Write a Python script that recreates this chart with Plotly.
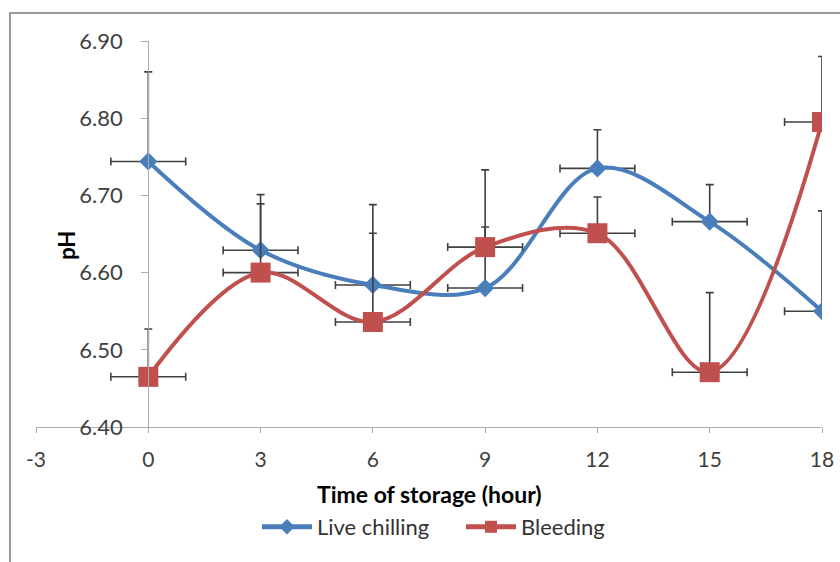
import plotly.graph_objects as go

hours = [0, 3, 6, 9, 12, 15, 18]
live_chilling = [6.744, 6.629, 6.584, 6.580, 6.735, 6.666, 6.550]
live_err = [0.116, 0.072, 0.067, 0.079, 0.050, 0.048, 0.130]
bleeding = [6.465, 6.600, 6.536, 6.633, 6.651, 6.471, 6.795]
bleed_err = [0.062, 0.089, 0.152, 0.100, 0.047, 0.103, 0.085]
x_err = 1
x_ticks = [-3, 0, 3, 6, 9, 12, 15, 18]
x_tick_text = ["-3", "0", "3", "6", "9", "12", "15", "18"]
y_ticks = [6.40, 6.50, 6.60, 6.70, 6.80, 6.90]

BLUE = "#4A7EBB"
RED = "#C0504D"
ERR = "#404040"
AXIS = "#ABABAB"
FONT = "Lato"

def err_y(vals):
    return dict(type="data", symmetric=False, array=vals, arrayminus=[0] * len(vals),
                color=ERR, thickness=1.6, width=4)

def err_x():
    return dict(type="constant", value=x_err, color=ERR, thickness=1.6, width=4)

fig = go.Figure()
fig.add_trace(go.Scatter(
    x=hours, y=live_chilling, name="Live chilling", mode="lines+markers",
    line=dict(color=BLUE, width=4, shape="spline", smoothing=1),
    marker=dict(symbol="diamond", size=14, color=BLUE),
    error_y=err_y(live_err), error_x=err_x(),
))
fig.add_trace(go.Scatter(
    x=hours, y=bleeding, name="Bleeding", mode="lines+markers",
    line=dict(color=RED, width=4, shape="spline", smoothing=1),
    marker=dict(symbol="square", size=20, color=RED),
    error_y=err_y(bleed_err), error_x=err_x(),
))

fig.update_layout(
    width=840, height=562,
    margin=dict(l=36, r=18, t=41, b=135, autoexpand=False),
    paper_bgcolor="white", plot_bgcolor="white",
    font=dict(family=FONT, size=21, color="#404040"),
    showlegend=True,
    legend=dict(orientation="h", x=(257 - 36) / 786, xanchor="left", y=-0.259,
                yanchor="middle", font=dict(family=FONT, size=22, color="#333333"),
                itemwidth=50, entrywidth=139, entrywidthmode="pixels",
                traceorder="normal", itemsizing="constant"),
    xaxis=dict(range=[-3, 18], tickvals=x_ticks, ticktext=x_tick_text, showgrid=False,
               zeroline=False, showline=True, linecolor=AXIS, linewidth=1.2,
               ticks="outside", ticklen=5, tickcolor=AXIS, automargin=False,
               ticklabelstandoff=9, tickfont=dict(size=21, color="#404040")),
    yaxis=dict(range=[6.40, 6.90], tickvals=y_ticks, tickformat=".2f", showgrid=False,
               zeroline=False, showline=True, linecolor=AXIS, linewidth=1.2,
               ticks="outside", ticklen=7, tickcolor=AXIS, automargin=False,
               anchor="free", position=3 / 21, ticklabelstandoff=14,
               tickfont=dict(size=22, color="#404040")),
    annotations=[
        dict(text="<b>Time of storage (hour)</b>", xref="paper", yref="paper",
             x=0.5, y=-0.1736, xanchor="center", yanchor="middle", showarrow=False,
             font=dict(family=FONT, size=23, color="black")),
        dict(text="<b>pH</b>", xref="paper", yref="paper", textangle=-90,
             x=0.038, y=0.4715, xanchor="center", yanchor="middle", showarrow=False,
             font=dict(family=FONT, size=22, color="black")),
    ],
    shapes=[dict(type="rect", xref="paper", yref="paper", x0=-0.0331, y0=-0.6,
                 x1=1.2, y1=1.0725, line=dict(color="#9A9A9A", width=2), layer="below")],
)

fig.write_html("out.html")
